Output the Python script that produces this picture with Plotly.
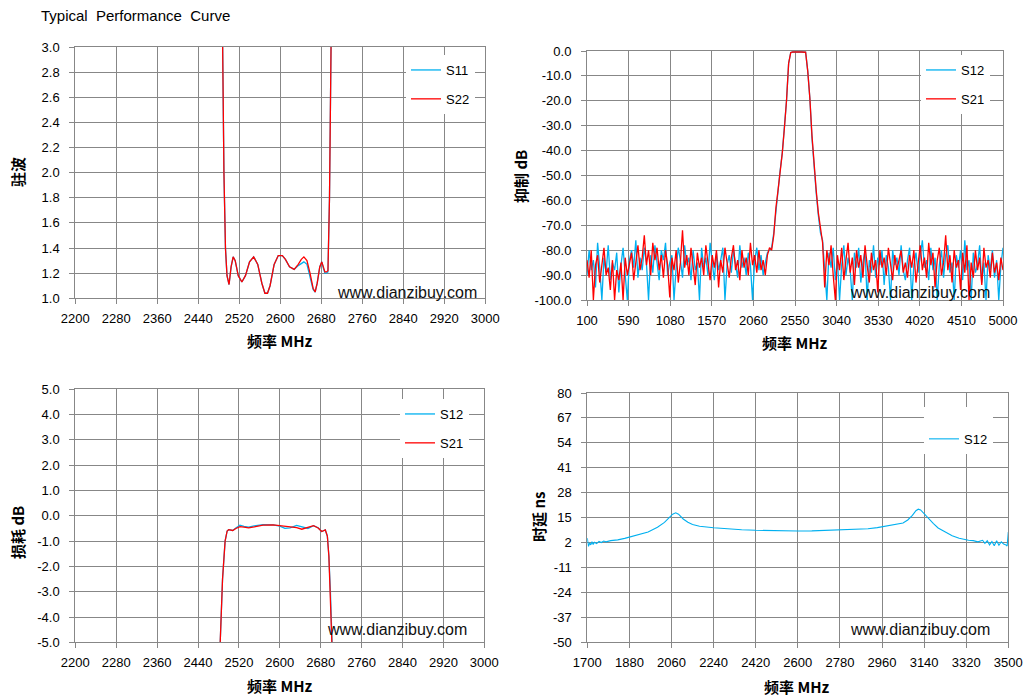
import numpy as np
import plotly.graph_objects as go

W, H = 1028, 696

# ---- VSWR (top left) ----
vswr_freq = [2480, 2487, 2490, 2493, 2496, 2500, 2504, 2508, 2512, 2518, 2525, 2532, 2540, 2548,
             2556, 2564, 2570, 2575, 2580, 2588, 2596, 2604, 2610, 2618, 2627, 2635, 2641, 2646,
             2652, 2658, 2664, 2668, 2672, 2677, 2681, 2684, 2687, 2690, 2693, 2696, 2699, 2705]
vswr_s22 = [6.0, 3.0, 2.0, 1.4, 1.18, 1.11, 1.25, 1.33, 1.30, 1.18, 1.13, 1.18, 1.29, 1.33,
            1.27, 1.12, 1.04, 1.04, 1.10, 1.27, 1.34, 1.34, 1.31, 1.25, 1.23, 1.27, 1.31, 1.33,
            1.30, 1.20, 1.08, 1.05, 1.12, 1.25, 1.29, 1.25, 1.21, 1.21, 1.22, 1.8, 3.0, 6.0]
vswr_s11 = [6.0, 3.0, 2.0, 1.4, 1.18, 1.11, 1.25, 1.33, 1.30, 1.18, 1.13, 1.18, 1.29, 1.33,
            1.27, 1.12, 1.04, 1.04, 1.10, 1.27, 1.34, 1.34, 1.31, 1.25, 1.23, 1.26, 1.28, 1.29,
            1.27, 1.18, 1.07, 1.05, 1.12, 1.25, 1.29, 1.24, 1.20, 1.20, 1.21, 1.8, 3.0, 6.0]

# ---- Rejection (top right), 100..5000 MHz every 25 MHz ----
rej_freq = np.arange(100, 5001, 25)
rej_s21 = [-84, -91, -80, -100, -86, -82, -93, -85, -79, -90,
           -87, -96, -84, -100, -88, -92, -85, -100, -83, -90,
           -86, -81, -92, -84, -78, -88, -83, -74, -86, -80,
           -90, -77, -84, -79, -88, -82, -91, -80, -86, -99,
           -83, -88, -80, -93, -85, -72, -87, -82, -90, -79,
           -86, -94, -81, -87, -83, -90, -78, -85, -92, -82,
           -87, -80, -95, -84, -89, -79, -86, -91, -83, -78,
           -88, -84, -92, -80, -87, -83, -90, -77, -86, -82,
           -89, -80, -88, -84, -90, -82, -79, -80, -74, -63,
           -56, -49, -41, -31, -20, -5, -0.6, -0.4, -0.3, -0.3,
           -0.4, -0.4, -0.5, -0.5, -8, -19, -34, -46, -56, -65,
           -72, -77, -95, -80, -86, -78, -90, -100, -82, -88,
           -79, -92, -84, -77, -89, -83, -94, -80, -87, -82,
           -91, -78, -86, -93, -81, -88, -84, -97, -80, -87,
           -83, -90, -79, -85, -92, -82, -88, -84, -80, -89,
           -85, -91, -82, -87, -80, -93, -84, -78, -88, -83,
           -91, -77, -86, -81, -95, -84, -79, -90, -85, -74,
           -88, -82, -93, -80, -87, -84, -96, -81, -89, -78,
           -100, -85, -91, -80, -88, -83, -94, -79, -87, -84,
           -91, -81, -89, -85, -92, -83, -88]
rej_s12 = [-90, -80, -88, -84, -95, -77, -87, -100, -83, -89,
           -78, -92, -85, -88, -81, -97, -86, -79, -90, -100,
           -84, -80, -87, -76, -91, -83, -88, -79, -85, -100,
           -82, -89, -78, -86, -92, -80, -84, -77, -90, -85,
           -82, -100, -87, -79, -84, -91, -78, -86, -83, -92,
           -80, -88, -85, -100, -79, -87, -83, -90, -77, -85,
           -92, -81, -88, -84, -79, -100, -86, -82, -89, -80,
           -85, -91, -78, -87, -83, -90, -81, -86, -100, -84,
           -79, -88, -82, -90, -85, -81, -80, -79, -73, -64,
           -56, -48, -41, -31, -20, -5, -0.6, -0.4, -0.3, -0.3,
           -0.4, -0.4, -0.5, -0.5, -8, -19, -35, -47, -57, -66,
           -73, -76, -88, -100, -81, -87, -79, -92, -84, -100,
           -86, -78, -90, -83, -88, -100, -81, -87, -79, -93,
           -85, -80, -100, -84, -89, -78, -91, -83, -86, -80,
           -94, -82, -87, -100, -80, -86, -83, -90, -78, -88,
           -92, -84, -79, -100, -86, -81, -89, -83, -76, -87,
           -84, -92, -79, -88, -83, -100, -86, -80, -91, -82,
           -78, -89, -85, -100, -82, -87, -80, -92, -76, -88,
           -84, -100, -81, -89, -86, -78, -93, -85, -100, -82,
           -88, -80, -91, -84, -100, -86, -79]

# ---- Insertion loss (bottom left) ----
il_freq = [2478, 2483, 2488, 2493, 2497, 2500, 2504, 2508, 2514, 2522, 2530, 2539, 2550, 2567,
           2587, 2600, 2610, 2620, 2633, 2643, 2655, 2666, 2675, 2682, 2689, 2693, 2696, 2699,
           2702, 2707]
il_s21 = [-8, -5, -2.5, -1.0, -0.6, -0.55, -0.57, -0.58, -0.5, -0.43, -0.45, -0.48, -0.44, -0.37,
          -0.36, -0.39, -0.43, -0.45, -0.47, -0.53, -0.47, -0.39, -0.48, -0.62, -0.56, -0.8, -1.6,
          -3.0, -5, -8]
il_s12 = [-8, -5, -2.5, -1.0, -0.6, -0.55, -0.57, -0.58, -0.48, -0.37, -0.42, -0.45, -0.4, -0.35,
          -0.36, -0.41, -0.5, -0.48, -0.38, -0.43, -0.5, -0.39, -0.47, -0.62, -0.56, -0.8, -1.6,
          -3.0, -5, -8]

# ---- Group delay (bottom right) ----
gd_freq = [1700, 1705, 1710, 1715, 1720, 1725, 1730, 1740, 1750, 1760, 1770, 1780, 1800, 1830,
           1860, 1880, 1920, 1960, 2000, 2030, 2050, 2065, 2078, 2090, 2110, 2130, 2150, 2180,
           2240, 2300, 2360, 2420, 2480, 2540, 2600, 2660, 2720, 2780, 2840, 2900, 2940, 2980,
           3020, 3050, 3070, 3090, 3105, 3115, 3125, 3140, 3160, 3180, 3200, 3230, 3260, 3290,
           3310, 3330, 3350, 3370, 3390, 3400, 3410, 3420, 3430, 3440, 3450, 3460, 3470, 3480,
           3490, 3495, 3500]
gd_s12 = [4.3, 0.0, 1.8, 0.8, 2.4, 1.0, 2.2, 1.5, 2.6, 2.0, 2.8, 2.4, 3.0, 3.4,
          4.2, 4.9, 6.2, 7.5, 10.0, 12.5, 15.0, 16.8, 17.5, 16.8, 14.3, 12.6, 11.4, 10.5,
          9.7, 9.1, 8.7, 8.4, 8.2, 8.0, 8.0, 8.1, 8.3, 8.5, 8.8, 9.2, 9.8, 10.6,
          11.3, 12.2, 13.8, 16.2, 18.6, 19.4, 19.0, 17.0, 14.0, 11.9, 9.6, 7.6, 5.6, 4.3,
          3.7, 3.2, 3.0, 2.4, 3.2, 1.6, 3.0, 0.8, 2.6, 0.4, 3.0, 0.6, 2.4, 1.2,
          0.8, 0.2, 7.5]

# tick labels
tl_xticks = ["2200", "2280", "2360", "2440", "2520", "2600", "2680", "2760", "2840", "2920", "3000"]
tl_yticks = ["1.0", "1.2", "1.4", "1.6", "1.8", "2.0", "2.2", "2.4", "2.6", "2.8", "3.0"]
tr_xticks = ["100", "590", "1080", "1570", "2060", "2550", "3040", "3530", "4020", "4510", "5000"]
tr_yticks = ["-100.0", "-90.0", "-80.0", "-70.0", "-60.0", "-50.0", "-40.0", "-30.0", "-20.0", "-10.0", "0.0"]
bl_xticks = tl_xticks
bl_yticks = ["-5.0", "-4.0", "-3.0", "-2.0", "-1.0", "0.0", "1.0", "2.0", "3.0", "4.0", "5.0"]
br_xticks = ["1700", "1880", "2060", "2240", "2420", "2600", "2780", "2960", "3140", "3320", "3500"]
br_yticks = ["-50", "-37", "-24", "-11", "2", "15", "28", "41", "54", "67", "80"]

BLUE = "#00B0F0"
RED = "#FF0000"
GRID = "#878787"
FONT = "Liberation Sans"
CJK = "Noto Sans CJK SC"


def px(x):
    return x / W


def py(y):
    return 1 - y / H


fig = go.Figure()

fig.add_trace(go.Scatter(x=vswr_freq, y=vswr_s11, name="S11", mode="lines", line=dict(color=BLUE, width=1.3),
                         xaxis="x", yaxis="y", legend="legend", legendgroup="a"))
fig.add_trace(go.Scatter(x=vswr_freq, y=vswr_s22, name="S22", mode="lines", line=dict(color=RED, width=1.3),
                         xaxis="x", yaxis="y", legend="legend", legendgroup="b"))
fig.add_trace(go.Scatter(x=rej_freq, y=rej_s12, name="S12", mode="lines", line=dict(color=BLUE, width=1.3),
                         xaxis="x2", yaxis="y2", legend="legend2", legendgroup="c"))
fig.add_trace(go.Scatter(x=rej_freq, y=rej_s21, name="S21", mode="lines", line=dict(color=RED, width=1.3),
                         xaxis="x2", yaxis="y2", legend="legend2", legendgroup="d"))
fig.add_trace(go.Scatter(x=il_freq, y=il_s12, name="S12", mode="lines", line=dict(color=BLUE, width=1.3),
                         xaxis="x3", yaxis="y3", legend="legend3", legendgroup="e"))
fig.add_trace(go.Scatter(x=il_freq, y=il_s21, name="S21", mode="lines", line=dict(color=RED, width=1.3),
                         xaxis="x3", yaxis="y3", legend="legend3", legendgroup="f"))
fig.add_trace(go.Scatter(x=gd_freq, y=gd_s12, name="S12", mode="lines", line=dict(color=BLUE, width=1.1),
                         xaxis="x4", yaxis="y4", legend="legend4", legendgroup="g"))


def axis(domain, rng, labels, anchor, standoff):
    vals = [float(v) for v in labels]
    return dict(domain=domain, range=rng, tickvals=vals, ticktext=labels, anchor=anchor,
                automargin=False, showgrid=True, gridcolor=GRID, gridwidth=1, zeroline=False,
                showline=True, linecolor=GRID, linewidth=1, mirror=True,
                ticks="outside", ticklen=5, tickcolor=GRID, ticklabelstandoff=standoff,
                tickfont=dict(family=FONT, size=13, color="#000000"))


layout = dict(
    xaxis=axis([px(75.3), px(485.3)], [2200, 3000], tl_xticks, "y", 3),
    yaxis=axis([py(298.3), py(47)], [1, 3], tl_yticks, "x", 7),
    xaxis2=axis([px(587), px(1003)], [100, 5000], tr_xticks, "y2", 3),
    yaxis2=axis([py(300), py(51)], [-100, 0], tr_yticks, "x2", 7),
    xaxis3=axis([px(75.3), px(484.3)], [2200, 3000], bl_xticks, "y3", 3),
    yaxis3=axis([py(642.3), py(389.3)], [-5, 5], bl_yticks, "x3", 7),
    xaxis4=axis([px(587.3), px(1008.3)], [1700, 3500], br_xticks, "y4", 3),
    yaxis4=axis([py(642.3), py(393)], [-50, 80], br_yticks, "x4", 7),
)


def legend(x, y, title=None):
    leg = dict(x=px(x), y=py(y), xanchor="left", yanchor="top", bgcolor="#FFFFFF",
               font=dict(family=FONT, size=13, color="#000000"), tracegroupgap=9)
    if title:
        leg["title"] = dict(text=title, font=dict(family=FONT, size=13))
    return leg


fig.update_layout(
    width=W, height=H, margin=dict(l=0, r=0, t=0, b=0, autoexpand=False),
    paper_bgcolor="#FFFFFF", plot_bgcolor="#FFFFFF",
    legend=legend(406, 55), legend2=legend(921, 55),
    legend3=legend(400, 399), legend4=legend(924, 407, "\u00a0"),
    **layout,
)

# title, axis titles and watermark
fig.add_annotation(x=px(39), y=py(16), xref="paper", yref="paper", xanchor="left", yanchor="middle",
                   text="Typical\u00a0 Performance\u00a0 Curve", showarrow=False,
                   font=dict(family=FONT, size=15, color="#000000"))

axis_titles = [
    ("<b>频率 MHz</b>", 280, 340, 0), ("<b>驻波</b>", 18, 172, -90),
    ("<b>频率 MHz</b>", 795, 342, 0), ("<b>抑制 dB</b>", 520, 177, -90),
    ("<b>频率 MHz</b>", 280, 685, 0), ("<b>损耗 dB</b>", 17, 533, -90),
    ("<b>频率 MHz</b>", 797, 686, 0), ("<b>时延 ns</b>", 538, 517, -90),
]
for txt, x, y, ang in axis_titles:
    fig.add_annotation(x=px(x), y=py(y), xref="paper", yref="paper", xanchor="center", yanchor="middle",
                       text=txt, showarrow=False, textangle=ang,
                       font=dict(family=CJK, size=15, color="#000000"))

for x, y in [(407, 292), (920, 292), (397, 629), (920, 629)]:
    fig.add_annotation(x=px(x), y=py(y), xref="paper", yref="paper", xanchor="center", yanchor="middle",
                       text="www.dianzibuy.com", showarrow=False,
                       font=dict(family=FONT, size=16, color="#101010"))

fig.write_html("out.html", config={"displayModeBar": False},
               post_script="document.body.style.margin='0px';")
